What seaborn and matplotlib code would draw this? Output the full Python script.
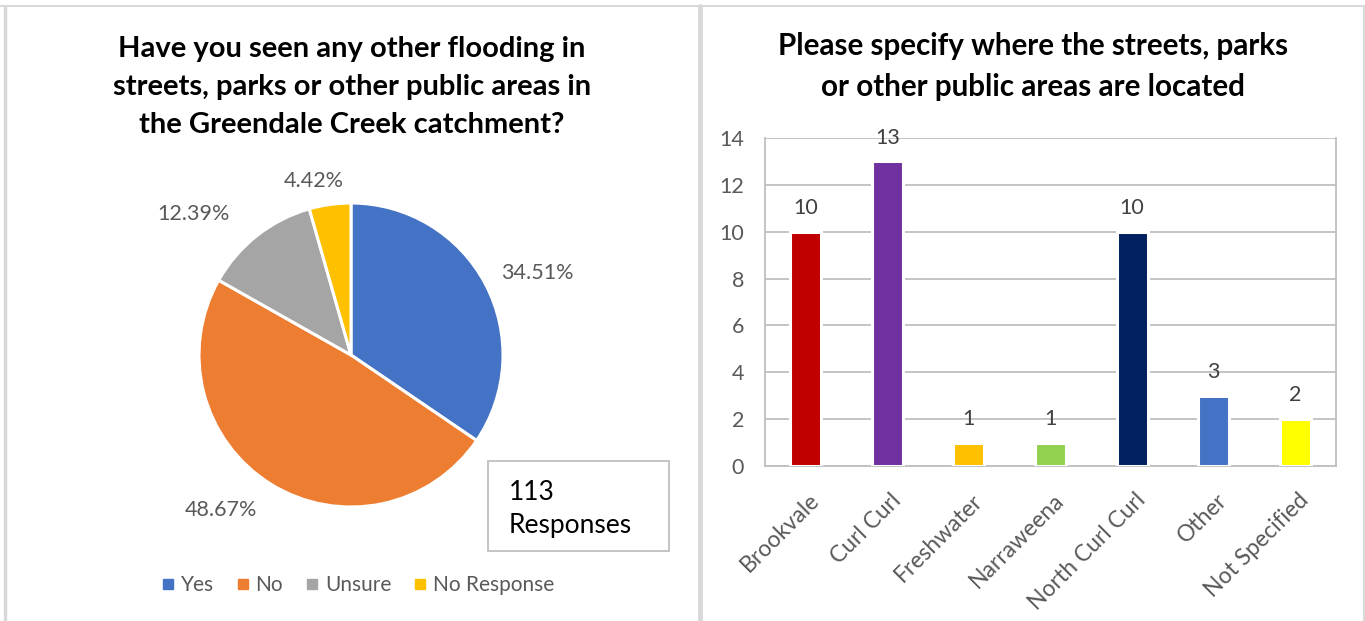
import numpy as np
import pandas as pd
import matplotlib
matplotlib.use("Agg")
import matplotlib.pyplot as plt
import matplotlib.transforms as mtransforms
from matplotlib.lines import Line2D
import seaborn as sns

# ---- data ----
pie_labels = ["Yes", "No", "Unsure", "No Response"]
pie_values = [34.51, 48.67, 12.39, 4.42]
pie_colors = ["#4472C4", "#ED7D31", "#A5A5A5", "#FFC000"]
total_responses = 113

suburbs = ["Brookvale", "Curl Curl", "Freshwater", "Narraweena",
           "North Curl Curl", "Other", "Not Specified"]
counts = [10, 13, 1, 1, 10, 3, 2]
bar_colors = ["#C00000", "#7030A0", "#FFC000", "#92D050",
              "#002060", "#4472C4", "#FFFF00"]
y_ticks = [0, 2, 4, 6, 8, 10, 12, 14]

sns.set_theme(style="white")
plt.rcParams["font.family"] = ["Lato", "DejaVu Sans"]

W, H = 1365, 621
fig = plt.figure(figsize=(W / 100, H / 100), dpi=100)
fig.patch.set_facecolor("white")

def fx(px):
    return px / W

def fy(py):
    return 1 - py / H

TXT = "#595959"

# ---- panel frames ----
frame = "#D9D9D9"
fig.add_artist(Line2D([fx(0), fx(W)], [fy(6), fy(6)], color=frame, lw=1.5))
fig.add_artist(Line2D([fx(4.5), fx(4.5)], [fy(6), fy(H)], color=frame, lw=2.5))
fig.add_artist(Line2D([fx(700), fx(700)], [fy(6), fy(H)], color=frame, lw=3.5))
fig.add_artist(Line2D([fx(1363.5), fx(1363.5)], [fy(6), fy(H)], color=frame, lw=1.5))

# ---- pie chart ----
cx, cy, r = 351, 355, 152
ax_pie = fig.add_axes([fx(cx - r), fy(cy + r), (2 * r) / W, (2 * r) / H])
wedges, _ = ax_pie.pie(pie_values, colors=pie_colors, startangle=90,
                       counterclock=False, radius=1.0,
                       wedgeprops=dict(edgecolor="white", linewidth=2.2))
ax_pie.set_xlim(-1, 1)
ax_pie.set_ylim(-1, 1)
ax_pie.set_aspect("auto")
ax_pie.axis("off")

# outside labels: angle nudge (deg) and distance per wedge
label_nudge = [-4, -8, 10, 4]
label_dist = [1.34, 1.33, 1.39, 1.17]
for w, v, dn, dd in zip(wedges, pie_values, label_nudge, label_dist):
    ang = np.deg2rad((w.theta1 + w.theta2) / 2 + dn)
    ax_pie.text(dd * np.cos(ang), dd * np.sin(ang), f"{v:.2f}%",
                ha="center", va="center", fontsize=15.5, color=TXT,
                clip_on=False)

fig.text(fx(352), fy(87), "Have you seen any other flooding in\n"
         "streets, parks or other public areas in\n"
         "the Greendale Creek catchment?",
         ha="center", va="center", fontsize=21, fontweight="bold",
         color="black", linespacing=1.55)

# responses box
fig.add_artist(plt.Rectangle((fx(488), fy(551)), fx(669) - fx(488),
                             fy(461) - fy(551), fill=False,
                             edgecolor="#BFBFBF", lw=1.3))
fig.text(fx(509), fy(509), f"{total_responses}\nResponses", ha="left",
         va="center", fontsize=19, color="black", linespacing=1.35)

handles = [Line2D([], [], marker="s", ls="none", markersize=7,
                  markerfacecolor=c, markeredgecolor=c) for c in pie_colors]
fig.legend(handles, pie_labels, loc="center", ncol=4,
           bbox_to_anchor=(fx(357), fy(585)), frameon=False,
           fontsize=15, labelcolor=TXT, handletextpad=0.2,
           columnspacing=1.0, handlelength=0.8)

# ---- bar chart ----
ax = fig.add_axes([fx(765), fy(466), fx(1336) - fx(765), (466 - 138) / H])
df = pd.DataFrame({"suburb": suburbs, "count": counts})
sns.barplot(data=df, x="suburb", y="count", hue="suburb",
            palette=bar_colors, saturation=1, width=0.38, edgecolor="white",
            linewidth=2.2, legend=False, ax=ax, zorder=3)
ax.set_ylim(0, 14)
ax.set_xlim(-0.5, len(suburbs) - 0.5)
ax.set_yticks(y_ticks)
ax.set_xlabel("")
ax.set_ylabel("")
ax.yaxis.grid(True, color="#BFBFBF", lw=1.3, zorder=0)
ax.set_axisbelow(True)
for s in ["left", "right", "top", "bottom"]:
    ax.spines[s].set_color("#BFBFBF")
    ax.spines[s].set_linewidth(1.3)
ax.spines["top"].set_visible(False)

ax.tick_params(axis="y", length=0, labelsize=15.5, labelcolor=TXT, pad=15)
ax.set_xticks(range(len(suburbs)))
ax.set_xticklabels(suburbs, rotation=45, ha="right", va="top",
                   rotation_mode="anchor", fontsize=16.5, color=TXT)
ax.tick_params(axis="x", which="major", length=0, pad=17)
shift = mtransforms.ScaledTranslation(3 / 100, 0, fig.dpi_scale_trans)
for lab in ax.get_xticklabels():
    lab.set_transform(lab.get_transform() + shift)
ax.set_xticks(np.arange(-0.5, len(suburbs), 1.0), minor=True)
ax.tick_params(axis="x", which="minor", length=6, width=1.3,
               color="#BFBFBF", direction="out")

for cont in ax.containers:
    ax.bar_label(cont, fmt="%d", padding=10, fontsize=15.5, color="#404040")

fig.text(fx(1033), fy(66.5), "Please specify where the streets, parks\n"
         "or other public areas are located",
         ha="center", va="center", fontsize=21.3, fontweight="bold",
         color="black", linespacing=1.55)

fig.savefig("out.png", dpi=100, facecolor="white")
